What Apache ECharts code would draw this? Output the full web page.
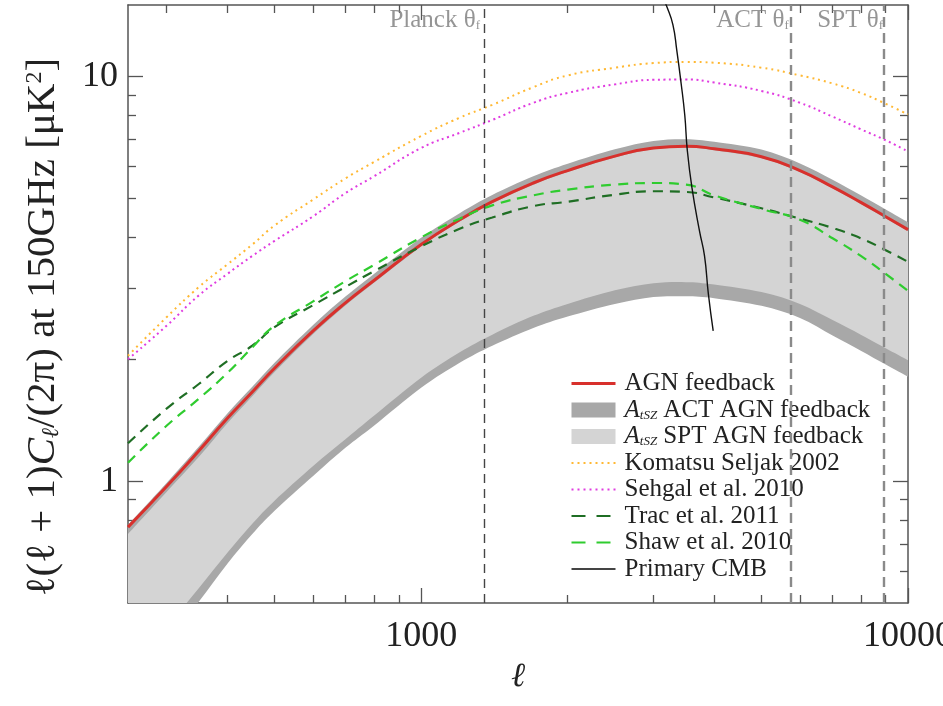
<!DOCTYPE html>
<html>
<head>
<meta charset="utf-8">
<script src="https://cdn.jsdelivr.net/npm/echarts@6/dist/echarts.min.js"></script>
<style>
  html, body { margin: 0; background: #fff; }
  #chart { width: 943px; height: 706px; }
</style>
</head>
<body>
<div id="chart"></div>
<script>
// multipole values shared by all model curves
const ell = [250, 300, 350, 400, 450, 500, 600, 700, 800, 1000, 1200, 1400, 1700, 2000, 2500, 3000, 3500, 4000, 5000, 6000, 7000, 8000, 9000, 10000];

// AGN feedback model and the A_tSZ bands around it
const agn    = [0.77, 0.97, 1.19, 1.43, 1.66, 1.90, 2.35, 2.76, 3.13, 3.84, 4.42, 4.90, 5.45, 5.85, 6.35, 6.65, 6.72, 6.62, 6.33, 5.85, 5.33, 4.88, 4.50, 4.18];
const actHi  = [0.78, 0.99, 1.22, 1.47, 1.71, 1.96, 2.43, 2.86, 3.25, 3.99, 4.59, 5.09, 5.66, 6.08, 6.60, 6.92, 6.99, 6.89, 6.59, 6.09, 5.55, 5.08, 4.69, 4.36];
const actLo  = [0.305, 0.40, 0.505, 0.625, 0.74, 0.845, 1.03, 1.21, 1.37, 1.70, 1.96, 2.16, 2.39, 2.55, 2.74, 2.85, 2.86, 2.83, 2.71, 2.53, 2.29, 2.10, 1.94, 1.81];
const sptHi  = [0.74, 0.94, 1.15, 1.39, 1.62, 1.86, 2.31, 2.72, 3.09, 3.80, 4.38, 4.86, 5.40, 5.80, 6.30, 6.60, 6.67, 6.57, 6.28, 5.80, 5.29, 4.84, 4.46, 4.15];
const sptLo  = [0.33, 0.435, 0.545, 0.665, 0.785, 0.895, 1.09, 1.27, 1.45, 1.80, 2.08, 2.30, 2.56, 2.74, 2.96, 3.08, 3.10, 3.06, 2.93, 2.74, 2.50, 2.30, 2.13, 1.99];

// other models
const komatsu = [2.04, 2.54, 3.02, 3.43, 3.84, 4.28, 4.96, 5.60, 6.14, 7.12, 7.90, 8.50, 9.40, 10.05, 10.5, 10.78, 10.85, 10.8, 10.5, 10.05, 9.60, 9.10, 8.55, 8.05];
const sehgal  = [2.00, 2.42, 2.88, 3.25, 3.60, 3.92, 4.51, 5.15, 5.66, 6.65, 7.25, 7.80, 8.60, 9.10, 9.55, 9.80, 9.82, 9.65, 9.20, 8.60, 7.95, 7.40, 6.95, 6.52];
const trac    = [1.24, 1.51, 1.74, 1.98, 2.16, 2.40, 2.72, 3.02, 3.30, 3.80, 4.20, 4.48, 4.78, 4.90, 5.10, 5.20, 5.18, 5.02, 4.72, 4.45, 4.22, 3.98, 3.72, 3.48];
const shaw    = [1.11, 1.37, 1.60, 1.85, 2.14, 2.42, 2.78, 3.12, 3.42, 4.00, 4.45, 4.80, 5.08, 5.25, 5.40, 5.45, 5.40, 5.08, 4.70, 4.42, 3.98, 3.60, 3.25, 2.95];

// primary CMB (only its steep tail is inside the plot)
const cmbEll = [3080, 3200, 3290, 3350, 3420, 3480, 3520, 3600, 3730, 3820, 3890, 3980];
const cmbVal = [16.5, 14.8, 13.4, 11.6, 9.6, 8.0, 6.6, 5.3, 4.15, 3.6, 2.9, 2.35];

// beam scales of the experiments
const thetaEll = [1340, 5770, 9010];
const thetaNames = ['Planck', 'ACT', 'SPT'];

// axes
const xRange = [250, 10000];
const yRange = [0.5, 15];
const xMajor = [1000, 10000];
const xMinor = [300, 400, 500, 600, 700, 800, 900, 2000, 3000, 4000, 5000, 6000, 7000, 8000, 9000];
const yMajor = [1, 10];
const yMinor = [0.6, 0.7, 0.8, 0.9, 2, 3, 4, 5, 6, 7, 8, 9];

const lg = Math.log10;
const curve = ys => ell.map((l, i) => [lg(l), lg(ys[i])]);

const serif = 'Liberation Serif';
const axisColor = '#555';

function makeX(position, values, len, withLine, withLabel) {
  return {
    type: 'value', position: position,
    min: lg(xRange[0]), max: lg(xRange[1]),
    splitLine: { show: false },
    axisLine: { show: withLine, onZero: false, lineStyle: { color: axisColor, width: 1.5 } },
    axisTick: { show: true, inside: true, length: len, customValues: values.map(lg),
                lineStyle: { color: axisColor, width: 1.3 } },
    axisLabel: { show: withLabel, customValues: xMajor.map(lg), margin: 16,
                 formatter: v => String(Math.round(Math.pow(10, v))),
                 fontFamily: serif, fontSize: 36, color: '#222' }
  };
}

function makeY(position, values, len, withLine, withLabel) {
  return {
    type: 'value', position: position,
    min: lg(yRange[0]), max: lg(yRange[1]),
    splitLine: { show: false },
    axisLine: { show: withLine, onZero: false, lineStyle: { color: axisColor, width: 1.5 } },
    axisTick: { show: true, inside: true, length: len, customValues: values.map(lg),
                lineStyle: { color: axisColor, width: 1.3 } },
    axisLabel: { show: withLabel, customValues: yMajor.map(lg), margin: 10,
                 formatter: v => String(Math.round(Math.pow(10, v))),
                 fontFamily: serif, fontSize: 36, color: '#222' }
  };
}

const xAxes = [
  makeX('bottom', xMajor, 15, true, true),
  makeX('bottom', xMinor, 8, false, false),
  makeX('top', xMajor, 15, true, false),
  makeX('top', xMinor, 8, false, false)
];
xAxes[0].name = 'ℓ';
xAxes[0].nameLocation = 'middle';
xAxes[0].nameGap = 31;
xAxes[0].nameTextStyle = { fontFamily: serif, fontSize: 34, fontStyle: 'italic', color: '#222' };

const yAxes = [
  makeY('left', yMajor, 15, true, true),
  makeY('left', yMinor, 8, false, false),
  makeY('right', yMajor, 15, true, false),
  makeY('right', yMinor, 8, false, false)
];
yAxes[0].name = '{n|ℓ(ℓ + 1)}{i|C}{s|ℓ}{n|/(2π) at 150GHz [μK}{p|2}{n|]}';
yAxes[0].nameLocation = 'middle';
yAxes[0].nameGap = 64;
yAxes[0].nameTextStyle = {
  color: '#222',
  padding: [0, 46, 0, 0],
  rich: {
    n: { fontFamily: serif, fontSize: 41, color: '#222' },
    i: { fontFamily: serif, fontSize: 41, fontStyle: 'italic', color: '#222' },
    s: { fontFamily: serif, fontSize: 24, fontStyle: 'italic', color: '#222', verticalAlign: 'bottom' },
    p: { fontFamily: serif, fontSize: 24, color: '#222', verticalAlign: 'top' }
  }
};

// smooth path through pixel points (Catmull-Rom as cubic Beziers)
function splinePath(pts, start) {
  let d = (start ? 'M' : 'L') + pts[0][0] + ',' + pts[0][1];
  for (let i = 0; i < pts.length - 1; i++) {
    const p0 = pts[Math.max(i - 1, 0)], p1 = pts[i], p2 = pts[i + 1], p3 = pts[Math.min(i + 2, pts.length - 1)];
    const c1 = [p1[0] + (p2[0] - p0[0]) / 6, p1[1] + (p2[1] - p0[1]) / 6];
    const c2 = [p2[0] - (p3[0] - p1[0]) / 6, p2[1] - (p3[1] - p1[1]) / 6];
    d += 'C' + c1[0] + ',' + c1[1] + ' ' + c2[0] + ',' + c2[1] + ' ' + p2[0] + ',' + p2[1];
  }
  return d;
}

// shaded range between two curves, drawn as one shape through the axes
function bandSeries(name, lo, hi, color) {
  return {
    name: name, type: 'custom', z: 1, silent: true,
    itemStyle: { color: color },
    data: ell.map((l, i) => [lg(l), lg(lo[i]), lg(hi[i])]),
    encode: { x: 0, y: [1, 2] },
    renderItem: function (params, api) {
      if (params.dataIndexInside !== 0) return null;
      const n = params.dataInsideLength;
      const top = [], bottom = [];
      for (let i = 0; i < n; i++) {
        top.push(api.coord([api.value(0, i), api.value(2, i)]));
        bottom.unshift(api.coord([api.value(0, i), api.value(1, i)]));
      }
      const cs = params.coordSys;
      return {
        type: 'path',
        shape: { pathData: splinePath(top, true) + splinePath(bottom, false) + 'Z' },
        style: { fill: color, stroke: null },
        clipPath: { type: 'rect', shape: { x: cs.x, y: cs.y, width: cs.width, height: cs.height } }
      };
    }
  };
}

function lineSeries(name, ys, color, width, dash, z) {
  return {
    name: name, type: 'line', data: curve(ys), symbol: 'none', smooth: true, z: z || 3,
    itemStyle: { color: color },
    lineStyle: { color: color, width: width, type: dash || 'solid' }
  };
}

const series = [
  bandSeries('ACT band', actLo, actHi, '#a8a8a8'),
  bandSeries('SPT band', sptLo, sptHi, '#d4d4d4'),
  lineSeries('AGN feedback', agn, '#d8302c', 3),
  lineSeries('Komatsu Seljak 2002', komatsu, '#ffb833', 2, [2, 4]),
  lineSeries('Sehgal et al. 2010', sehgal, '#e03ce0', 2, [2, 3.5]),
  lineSeries('Trac et al. 2011', trac, '#1f6e24', 2.2, [10, 7]),
  lineSeries('Shaw et al. 2010', shaw, '#2fcc2f', 2.2, [10, 7]),
  {
    name: 'Primary CMB', type: 'line', symbol: 'none', smooth: true, z: 4,
    data: cmbEll.map((l, i) => [lg(l), lg(cmbVal[i])]),
    itemStyle: { color: '#111' }, lineStyle: { color: '#111', width: 1.4 }
  },
  {
    name: 'theta', type: 'scatter', symbolSize: 0, silent: true, z: 5,
    data: thetaEll.map((l, i) => ({ name: thetaNames[i], value: [lg(l), lg(yRange[1]) - 0.037] })),
    label: {
      show: true, position: 'left', distance: 3,
      formatter: p => '{t|' + p.name + ' θ}{s|f}',
      rich: {
        t: { fontFamily: serif, fontSize: 25, color: '#7a7a7a' },
        s: { fontFamily: serif, fontSize: 13, color: '#7a7a7a', verticalAlign: 'bottom' }
      }
    },
    markLine: {
      silent: true, symbol: 'none', label: { show: false },
      data: thetaEll.map((l, i) => ({
        xAxis: lg(l),
        lineStyle: i === 0 ? { color: '#444', width: 1.4, type: [9, 6] }
                           : { color: '#8a8a8a', width: 2.4, type: [10, 6] }
      }))
    }
  }
];

const legendRich = {
  n: { fontFamily: serif, fontSize: 25, color: '#222', lineHeight: 24 },
  a: { fontFamily: serif, fontSize: 25, fontStyle: 'italic', color: '#222', lineHeight: 24 },
  s: { fontFamily: serif, fontSize: 13, fontStyle: 'italic', color: '#222', lineHeight: 24, verticalAlign: 'bottom' }
};
const legendText = {
  'ACT band': '{a|A}{s|tSZ}{n| ACT AGN feedback}',
  'SPT band': '{a|A}{s|tSZ}{n| SPT AGN feedback}'
};
const noMarker = { color: 'rgba(0,0,0,0)', borderWidth: 0 };

const option = {
  animation: false,
  backgroundColor: '#fff',
  grid: { left: 128, right: 35, top: 5, bottom: 103, containLabel: false, outerBoundsMode: 'none' },
  xAxis: xAxes,
  yAxis: yAxes,
  legend: {
    orient: 'vertical', left: 565, top: 367,
    backgroundColor: '#fff', padding: [4, 6, 4, 5],
    itemWidth: 44, itemHeight: 15, itemGap: 1.5,
    selectedMode: false,
    formatter: name => legendText[name] || '{n|' + name + '}',
    textStyle: { rich: legendRich, padding: [0, 0, 0, 4] },
    data: [
      { name: 'AGN feedback', itemStyle: noMarker, lineStyle: { width: 3 } },
      { name: 'ACT band', icon: 'rect', itemStyle: { color: '#a8a8a8' } },
      { name: 'SPT band', icon: 'rect', itemStyle: { color: '#d4d4d4' } },
      { name: 'Komatsu Seljak 2002', itemStyle: noMarker, lineStyle: { type: [2, 4] } },
      { name: 'Sehgal et al. 2010', itemStyle: noMarker, lineStyle: { type: [2, 4] } },
      { name: 'Trac et al. 2011', itemStyle: noMarker, lineStyle: { type: [14, 11] } },
      { name: 'Shaw et al. 2010', itemStyle: noMarker, lineStyle: { type: [14, 11] } },
      { name: 'Primary CMB', itemStyle: noMarker, lineStyle: { width: 2, color: '#444' } }
    ]
  },
  series: series
};

const chart = echarts.init(document.getElementById('chart'), null, { renderer: 'canvas' });
chart.setOption(option);
</script>
</body>
</html>
